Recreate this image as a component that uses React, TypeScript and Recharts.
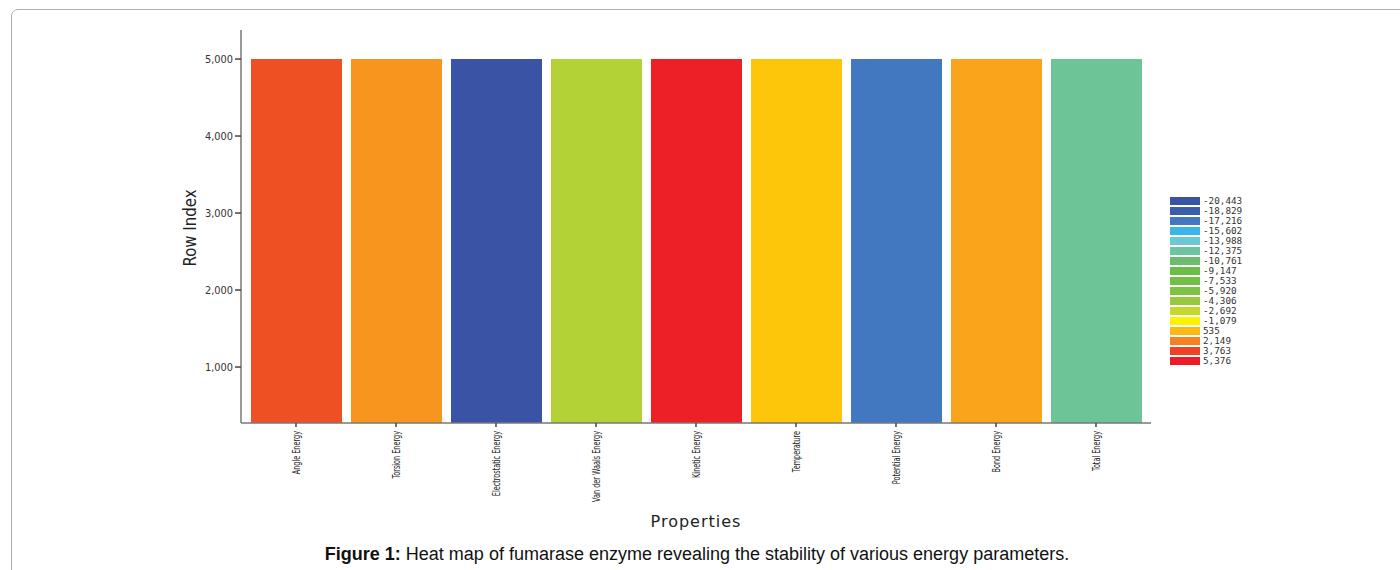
import { BarChart, Bar, XAxis, YAxis, Cell } from "recharts";

const properties = [
  "Angle Energy",
  "Torsion Energy",
  "Electrostatic Energy",
  "Van der Waals Energy",
  "Kinetic Energy",
  "Temperature",
  "Potential Energy",
  "Bond Energy",
  "Total Energy",
];
const rowCounts = [5000, 5000, 5000, 5000, 5000, 5000, 5000, 5000, 5000];
const barColors = [
  "#ef5023",
  "#f7961f",
  "#3a53a4",
  "#b2d236",
  "#ed2027",
  "#fec60b",
  "#4278bf",
  "#faa41b",
  "#6dc497",
];
const yTicks = [1000, 2000, 3000, 4000, 5000];

const legendValues = [
  "-20,443", "-18,829", "-17,216", "-15,602", "-13,988", "-12,375", "-10,761", "-9,147",
  "-7,533", "-5,920", "-4,306", "-2,692", "-1,079", "535", "2,149", "3,763", "5,376",
];
const legendColors = [
  "#3953a4", "#3a5dae", "#4377c0", "#3ab6e9", "#6dc8d5", "#6cc4a0", "#6abd6e", "#6bbe45",
  "#71bf44", "#7dc242", "#98c93c", "#c5d92d", "#fff200", "#fdb913", "#f58220", "#ef4123", "#ed1c24",
];

const data = properties.map((name, i) => ({ name, rows: rowCounts[i] }));

const sans = "'DejaVu Sans', sans-serif";

// the original labels are set in a very condensed face, so squeeze along the text
function PropertyTick(props: any) {
  const { x, y, payload } = props;
  return (
    <g transform={`translate(${x},${y + 2})`}>
      <text
        transform="rotate(-90) scale(0.62,1)"
        textAnchor="end"
        dy="0.35em"
        fontSize={10.5}
        fontFamily={sans}
        fill="#222"
      >
        {payload.value}
      </text>
    </g>
  );
}

function HeatLegend() {
  return (
    <div
      style={{
        position: "absolute",
        left: 1170,
        top: 196,
        fontFamily: "'DejaVu Sans Mono', monospace",
        fontSize: 9.3,
        color: "#333",
      }}
    >
      {legendValues.map((v, i) => (
        <div key={v} style={{ display: "flex", alignItems: "center", height: 10 }}>
          <span
            style={{
              display: "inline-block",
              width: 30,
              height: 8,
              background: legendColors[i],
              marginRight: 3,
            }}
          />
          <span style={{ lineHeight: "10px" }}>{v}</span>
        </div>
      ))}
    </div>
  );
}

export default function App() {
  return (
    <div
      style={{
        position: "absolute",
        left: 0,
        top: 0,
        width: 1400,
        height: 570,
        overflow: "hidden",
        background: "#fff",
      }}
    >
      <div
        style={{
          position: "absolute",
          left: 11,
          top: 9,
          width: 1420,
          height: 620,
          border: "1.5px solid #b0b0b0",
          borderRadius: 7,
        }}
      />
      <BarChart
        width={1400}
        height={570}
        data={data}
        margin={{ top: 30, right: 249, left: 181, bottom: 67 }}
        style={{ position: "absolute", left: 0, top: 0 }}
      >
        <XAxis
          dataKey="name"
          height={80}
          interval={0}
          padding={{ left: 5, right: 5 }}
          stroke="#777"
          strokeWidth={1.5}
          tickSize={4}
          tickLine={{ stroke: "#444" }}
          tick={<PropertyTick />}
          label={{
            value: "Properties",
            position: "insideBottom",
            offset: -24,
            fontSize: 16,
            fontFamily: sans,
            fill: "#222",
            letterSpacing: 1,
          }}
        />
        <YAxis
          width={60}
          type="number"
          domain={[273, 5377]}
          ticks={yTicks}
          allowDataOverflow
          stroke="#777"
          strokeWidth={1.5}
          tickSize={6}
          tickLine={{ stroke: "#444" }}
          tick={{ fontSize: 9.8, fill: "#333", fontFamily: sans }}
          tickFormatter={(v: number) => v.toLocaleString("en-US")}
        />
        <Bar dataKey="rows" barSize={91} isAnimationActive={false}>
          {data.map((d, i) => (
            <Cell key={d.name} fill={barColors[i]} />
          ))}
        </Bar>
      </BarChart>
      <div
        style={{
          position: "absolute",
          left: 190,
          top: 228,
          transform: "translate(-50%, -50%) rotate(-90deg) scaleX(0.88)",
          fontFamily: sans,
          fontSize: 17,
          color: "#222",
          whiteSpace: "nowrap",
          lineHeight: "20px",
        }}
      >
        Row Index
      </div>
      <HeatLegend />
      <div
        style={{
          position: "absolute",
          left: 0,
          width: 1394,
          top: 544,
          textAlign: "center",
          fontFamily: "'Liberation Sans', Arial, sans-serif",
          fontSize: 18,
          color: "#111",
        }}
      >
        <b>Figure 1:</b> Heat map of fumarase enzyme revealing the stability of various energy parameters.
      </div>
    </div>
  );
}
